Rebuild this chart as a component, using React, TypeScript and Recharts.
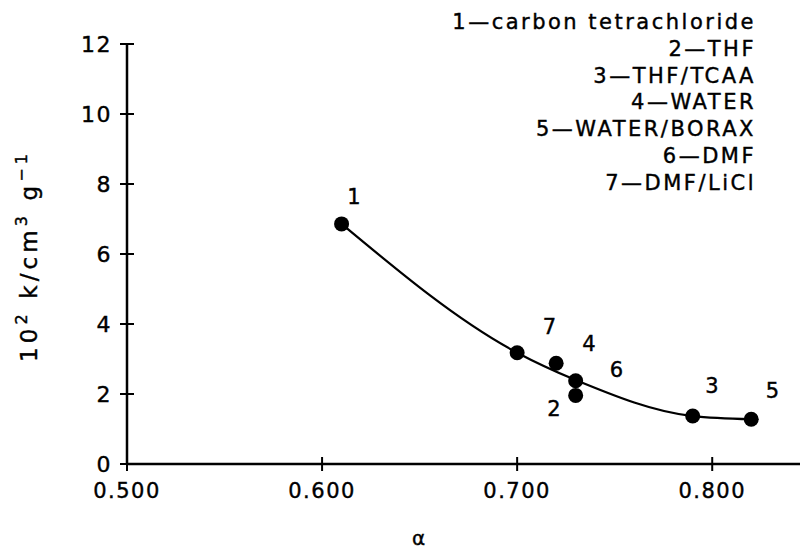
import React from "react";
import { ComposedChart, Line, Scatter, XAxis, YAxis } from "recharts";

// measured points: alpha vs 10^2 k
const solventIds = ["1", "2", "3", "4", "5", "6", "7"];
const solventNames = [
  "carbon tetrachloride",
  "THF",
  "THF/TCAA",
  "WATER",
  "WATER/BORAX",
  "DMF",
  "DMF/LiCl",
];
const alphaValues = [0.61, 0.73, 0.79, 0.73, 0.82, 0.7, 0.72];
const kValues = [6.86, 1.96, 1.37, 2.38, 1.28, 3.18, 2.88];

// smooth trend curve
const fitAlpha = [0.61, 0.7, 0.73, 0.79, 0.82];
const fitK = [6.86, 3.18, 2.4, 1.37, 1.28];

const xTicks = [0.5, 0.6, 0.7, 0.8];
const yTicks = [0, 2, 4, 6, 8, 10, 12];

// where each number sits relative to its dot (px)
const labelOffset: Record<string, [number, number]> = {
  "1": [13, -27],
  "2": [-21, 14],
  "3": [20, -30],
  "4": [14, -37],
  "5": [22, -28],
  "6": [100, 17],
  "7": [-6, -36],
};

const points = solventIds.map((id, i) => ({
  id,
  x: alphaValues[i],
  y: kValues[i],
}));
const curve = fitAlpha.map((x, i) => ({ x, y: fitK[i] }));

const FONT = "'DejaVu Sans', sans-serif";
const textStyle = { fontFamily: FONT, fontSize: 21, letterSpacing: 1.5 };
const ink = { fill: "#000", stroke: "#000", strokeWidth: 0.4 };

const Dot = (props: any) => {
  const { cx, cy, payload } = props;
  const [dx, dy] = labelOffset[payload.id];
  return (
    <g>
      <circle cx={cx} cy={cy} r={7.5} fill="#000" />
      <text
        x={cx + dx}
        y={cy + dy}
        textAnchor="middle"
        dominantBaseline="central"
        {...ink}
        style={textStyle}
      >
        {payload.id}
      </text>
    </g>
  );
};

const YTick = (props: any) => {
  const { x, y, payload } = props;
  return (
    <g>
      <line x1={x - 7} x2={x + 7} y1={y} y2={y} stroke="#000" strokeWidth={2} />
      <text
        x={x - 15}
        y={y}
        textAnchor="end"
        dominantBaseline="central"
        {...ink}
        style={{ ...textStyle, fontSize: 22 }}
      >
        {payload.value}
      </text>
    </g>
  );
};

const XTick = (props: any) => {
  const { x, y, payload } = props;
  return (
    <g>
      <line x1={x} x2={x} y1={y - 7} y2={y + 7} stroke="#000" strokeWidth={2} />
      <text
        x={x}
        y={y + 27}
        textAnchor="middle"
        dominantBaseline="central"
        {...ink}
        style={textStyle}
      >
        {payload.value.toFixed(3)}
      </text>
    </g>
  );
};

const YLabel = (props: any) => {
  const vb = props.viewBox;
  const cx = vb.x - 38;
  const cy = vb.y + vb.height / 2 + 4;
  return (
    <text
      x={cx}
      y={cy}
      transform={`rotate(-90, ${cx}, ${cy})`}
      textAnchor="middle"
      dominantBaseline="central"
      textLength={208}
      lengthAdjust="spacing"
      {...ink}
      style={{ fontFamily: FONT, fontSize: 23 }}
    >
      10
      <tspan dy={-8} fontSize={16}>2</tspan>
      <tspan dy={8}> k/cm</tspan>
      <tspan dy={-8} fontSize={16}>3</tspan>
      <tspan dy={8}> g</tspan>
      <tspan dy={-8} fontSize={16}>−1</tspan>
    </text>
  );
};

const XLabel = (props: any) => {
  const vb = props.viewBox;
  return (
    <text
      x={vb.x + vb.width / 2 - 45}
      y={vb.y + 74}
      textAnchor="middle"
      dominantBaseline="central"
      {...ink}
      style={{ fontFamily: FONT, fontSize: 20 }}
    >
      α
    </text>
  );
};

export default function App() {
  return (
    <div
      style={{
        position: "absolute",
        left: 0,
        top: 0,
        width: 800,
        height: 551,
        background: "#fff",
      }}
    >
      <ComposedChart
        width={800}
        height={551}
        margin={{ top: 44, right: 0, bottom: 27, left: 67 }}
      >
        <XAxis
          type="number"
          dataKey="x"
          domain={[0.5, 0.845]}
          ticks={xTicks}
          allowDataOverflow
          tickSize={0}
          tickMargin={0}
          tickLine={false}
          tick={<XTick />}
          axisLine={{ stroke: "#000", strokeWidth: 2.5 }}
          height={60}
          label={{ content: XLabel }}
        />
        <YAxis
          type="number"
          dataKey="y"
          domain={[0, 12]}
          ticks={yTicks}
          tickSize={0}
          tickMargin={0}
          tickLine={false}
          tick={<YTick />}
          axisLine={{ stroke: "#000", strokeWidth: 2.5 }}
          width={60}
          label={{ content: YLabel }}
        />
        <Line
          data={curve}
          dataKey="y"
          type="monotone"
          stroke="#000"
          strokeWidth={2.2}
          dot={false}
          activeDot={false}
          isAnimationActive={false}
        />
        <Scatter
          data={points}
          dataKey="y"
          shape={<Dot />}
          isAnimationActive={false}
        />
      </ComposedChart>
      <div
        style={{
          position: "absolute",
          right: 44,
          top: 9,
          textAlign: "right",
          fontFamily: FONT,
          fontSize: 21,
          letterSpacing: 2.5,
          lineHeight: "26.8px",
          color: "#000",
          WebkitTextStroke: "0.4px #000",
        }}
      >
        {solventIds.map((id, i) => (
          <div key={id}>
            {id}—{solventNames[i]}
          </div>
        ))}
      </div>
    </div>
  );
}
